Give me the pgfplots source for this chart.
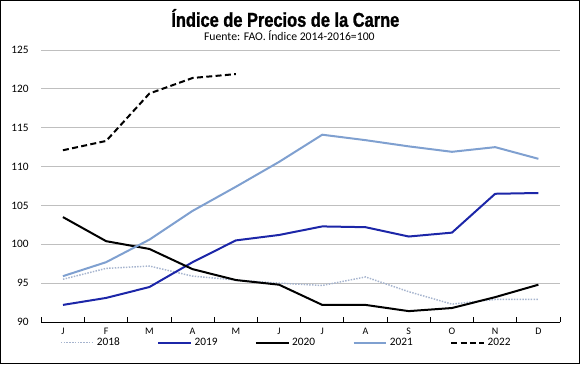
\documentclass[border=0pt]{standalone}
\usepackage{pgfplots}
\pgfplotsset{compat=1.18}
\usepackage{fontspec}
\setmainfont{Carlito}
\newfontfamily\titlefont[FakeStretch=0.82, FakeBold=1.2]{Liberation Sans}
\definecolor{c18}{RGB}{166,180,206}
\definecolor{c19}{RGB}{28,38,168}
\definecolor{c21}{RGB}{127,160,208}
\definecolor{gridc}{RGB}{191,191,191}
\begin{document}
\begin{tikzpicture}
\useasboundingbox (0,0) rectangle (435pt,-273pt);
\draw[black, line width=0.75pt] (0.375pt,-0.375pt) rectangle (434.625pt,-272.625pt);
\node[font=\titlefont\bfseries\fontsize{15}{17}\selectfont] at (214pt,-13.5pt) {Índice de Precios de la Carne};
\node[font=\fontsize{8.8}{10}\selectfont] at (217pt,-27pt) {Fuente: FAO. Índice 2014-2016=100};
\begin{axis}[
  at={(31pt,-241.5pt)}, anchor=south west,
  scale only axis, width=389pt, height=204pt,
  xmin=-0.5, xmax=11.5, ymin=90, ymax=125,
  axis x line*=bottom, axis y line*=left,
  y axis line style={draw=none},
  x axis line style={black, line width=0.75pt},
  xtick={0,...,11},
  xticklabels={J,F,M,A,M,J,J,A,S,O,N,D},
  major x tick style={draw=none},
  minor xtick={-0.5,0.5,...,11.5},
  minor x tick style={black, line width=0.75pt},
  minor tick length=3.5pt,
  tick align=inside,
  ytick={90,95,...,125},
  ytick style={draw=none},
  ymajorgrids, grid style={gridc, line width=0.75pt},
  tick label style={font=\fontsize{8.5}{10}\selectfont},
  xticklabel style={font=\fontsize{7.5}{9}\selectfont, yshift=-1pt},
  yticklabel style={xshift=-6pt},
  /pgf/number format/assume math mode=true,
  clip=false,
  legend columns=5,
  legend style={at={(0.473,-0.076)}, anchor=center, draw=none, fill=none,
    font=\fontsize{8.5}{10}\selectfont,
    /tikz/every even column/.append style={column sep=26pt},
    inner sep=0pt},
  legend image code/.code={\draw[#1] (0pt,0pt) -- (24.5pt,0pt);},
]
\addplot[c18, line width=1.1pt, densely dotted] coordinates {(0,95.5)(1,96.9)(2,97.2)(3,95.9)(4,95.4)(5,95.0)(6,94.7)(7,95.8)(8,93.9)(9,92.3)(10,92.9)(11,92.9)};
\addlegendentry{2018}
\addplot[c19, line width=1.5pt] coordinates {(0,92.2)(1,93.1)(2,94.5)(3,97.7)(4,100.5)(5,101.2)(6,102.3)(7,102.2)(8,101.0)(9,101.5)(10,106.5)(11,106.6)};
\addlegendentry{2019}
\addplot[black, line width=1.5pt] coordinates {(0,103.5)(1,100.4)(2,99.4)(3,96.8)(4,95.4)(5,94.8)(6,92.2)(7,92.2)(8,91.4)(9,91.8)(10,93.2)(11,94.8)};
\addlegendentry{2020}
\addplot[c21, line width=1.5pt] coordinates {(0,95.9)(1,97.7)(2,100.6)(3,104.3)(4,107.4)(5,110.6)(6,114.1)(7,113.4)(8,112.6)(9,111.9)(10,112.5)(11,111.0)};
\addlegendentry{2021}
\addplot[black, line width=1.5pt, dash pattern=on 4.5pt off 2.5pt] coordinates {(0,112.1)(1,113.3)(2,119.4)(3,121.4)(4,121.9)};
\addlegendentry{2022}
\end{axis}
\end{tikzpicture}
\end{document}
